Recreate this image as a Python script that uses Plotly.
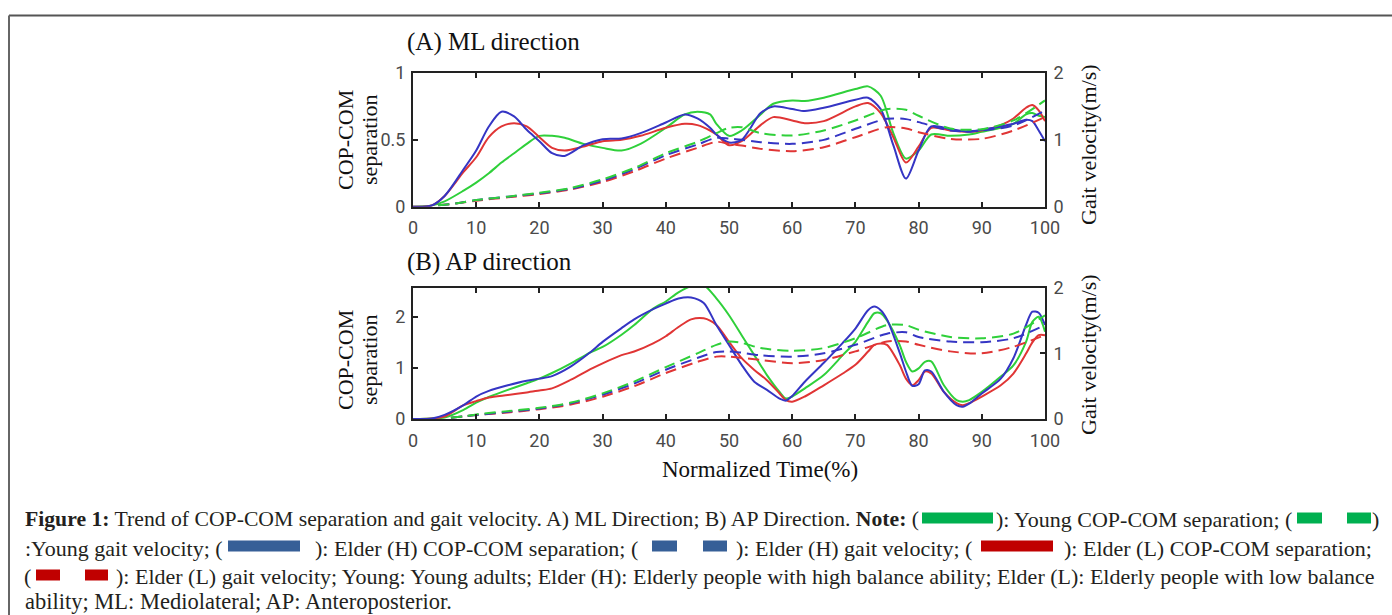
import plotly.graph_objects as go

W, H = 1392, 615

# ---------------- data ----------------
ml_x = [0, 3, 5, 8, 10, 12, 14, 16, 18, 20, 22, 24, 27, 30, 33, 36, 40, 43, 45, 47, 48, 50, 52, 55, 57,
        60, 62, 65, 70, 72, 74, 76, 78, 80, 82, 85, 88, 90, 93, 95, 97, 98, 99, 100]
ml_young = [0, 0.01, 0.04, 0.12, 0.18, 0.25, 0.33, 0.4, 0.47, 0.53, 0.53, 0.515, 0.47, 0.44, 0.42, 0.47,
            0.59, 0.69, 0.71, 0.69, 0.62, 0.53, 0.57, 0.69, 0.77, 0.795, 0.79, 0.815, 0.88, 0.9, 0.83,
            0.55, 0.36, 0.42, 0.54, 0.53, 0.54, 0.56, 0.59, 0.62, 0.69, 0.7, 0.68, 0.67]
ml_elder_h = [0, 0.01, 0.08, 0.28, 0.42, 0.6, 0.71, 0.675, 0.575, 0.49, 0.4, 0.38, 0.46, 0.505, 0.51, 0.55,
              0.63, 0.69, 0.66, 0.59, 0.54, 0.48, 0.5, 0.7, 0.75, 0.73, 0.715, 0.74, 0.8, 0.815, 0.73,
              0.46, 0.21, 0.42, 0.6, 0.58, 0.56, 0.575, 0.6, 0.62, 0.65, 0.64, 0.57, 0.49]
ml_elder_l = [0, 0.01, 0.08, 0.26, 0.37, 0.52, 0.6, 0.625, 0.6, 0.52, 0.44, 0.42, 0.45, 0.49, 0.5, 0.53,
              0.59, 0.62, 0.61, 0.57, 0.54, 0.46, 0.49, 0.61, 0.67, 0.645, 0.625, 0.64, 0.75, 0.775, 0.7,
              0.52, 0.33, 0.45, 0.59, 0.57, 0.56, 0.57, 0.61, 0.66, 0.74, 0.76, 0.72, 0.64]

mlv_x = [4, 7, 10, 15, 20, 25, 30, 35, 40, 45, 48, 50, 52, 55, 60, 65, 70, 75, 78, 80, 85, 90, 95, 100]
mlv_young = [0.02, 0.05, 0.1, 0.15, 0.21, 0.28, 0.41, 0.58, 0.8, 0.97, 1.1, 1.18, 1.19, 1.1, 1.065, 1.14,
             1.29, 1.46, 1.45, 1.36, 1.17, 1.16, 1.29, 1.59]
mlv_elder_h = [0.02, 0.05, 0.1, 0.15, 0.2, 0.27, 0.39, 0.56, 0.77, 0.93, 1.03, 1.02, 1.0, 0.965, 0.94, 1.0,
               1.165, 1.315, 1.31, 1.265, 1.14, 1.14, 1.215, 1.44]
mlv_elder_l = [0.02, 0.05, 0.09, 0.14, 0.19, 0.26, 0.37, 0.53, 0.72, 0.88, 0.97, 0.94, 0.915, 0.865, 0.83,
               0.89, 1.04, 1.19, 1.17, 1.115, 1.015, 1.015, 1.14, 1.34]

ap_x = [0, 3, 5, 8, 10, 12, 15, 18, 20, 22, 25, 28, 30, 33, 35, 38, 40, 42, 44, 46, 48, 50, 52, 54, 56,
        58, 59, 60, 62, 65, 68, 70, 72, 73, 74, 75, 77, 78, 79, 80, 81, 82, 84, 86, 87, 88, 90, 93, 95,
        97, 98, 99, 100]
ap_young = [0, 0.01, 0.03, 0.18, 0.32, 0.43, 0.57, 0.7, 0.79, 0.9, 1.09, 1.3, 1.41, 1.65, 1.84, 2.16, 2.3,
            2.48, 2.6, 2.62, 2.36, 2.03, 1.64, 1.25, 0.86, 0.53, 0.4, 0.44, 0.6, 0.86, 1.25, 1.51, 1.9,
            2.07, 2.07, 1.93, 1.45, 1.12, 0.93, 0.99, 1.12, 1.13, 0.66, 0.37, 0.34, 0.37, 0.53, 0.83,
            1.05, 1.51, 1.9, 2.0, 1.71]
ap_elder_h = [0, 0.01, 0.08, 0.27, 0.44, 0.55, 0.66, 0.75, 0.79, 0.84, 1.03, 1.3, 1.51, 1.78, 1.95, 2.15,
              2.26, 2.36, 2.38, 2.27, 1.84, 1.45, 1.06, 0.73, 0.57, 0.4, 0.36, 0.45, 0.73, 1.1, 1.49, 1.77,
              2.13, 2.2, 2.13, 1.95, 1.3, 0.93, 0.65, 0.68, 0.95, 0.93, 0.53, 0.27, 0.24, 0.3, 0.5, 0.79,
              1.19, 1.84, 2.1, 2.08, 1.84]
ap_elder_l = [0, 0.01, 0.05, 0.27, 0.35, 0.42, 0.47, 0.52, 0.56, 0.6, 0.77, 0.97, 1.09, 1.25, 1.32, 1.48,
              1.62, 1.8, 1.95, 1.97, 1.84, 1.51, 1.19, 0.96, 0.76, 0.5, 0.37, 0.34, 0.44, 0.66, 0.89, 1.06,
              1.32, 1.45, 1.48, 1.45, 1.06, 0.79, 0.66, 0.76, 0.93, 0.89, 0.53, 0.31, 0.27, 0.31, 0.44,
              0.66, 0.89, 1.28, 1.5, 1.64, 1.64]

apv_x = [6, 8, 10, 15, 20, 25, 30, 35, 40, 45, 48, 50, 52, 55, 60, 65, 70, 75, 78, 80, 85, 90, 95, 100]
apv_young = [0.02, 0.04, 0.07, 0.12, 0.17, 0.25, 0.39, 0.57, 0.79, 1.0, 1.13, 1.18, 1.16, 1.08, 1.04, 1.08,
             1.23, 1.43, 1.43, 1.36, 1.25, 1.23, 1.3, 1.58]
apv_elder_h = [0.02, 0.04, 0.06, 0.11, 0.16, 0.24, 0.37, 0.54, 0.75, 0.93, 1.02, 1.03, 1.01, 0.97, 0.95, 1.0,
               1.13, 1.3, 1.32, 1.25, 1.18, 1.17, 1.23, 1.43]
apv_elder_l = [0.02, 0.04, 0.06, 0.1, 0.15, 0.22, 0.34, 0.5, 0.7, 0.87, 0.95, 0.95, 0.93, 0.9, 0.85, 0.9,
               1.03, 1.18, 1.18, 1.13, 1.03, 1.0, 1.1, 1.28]

x_ticks = [0, 10, 20, 30, 40, 50, 60, 70, 80, 90, 100]
ml_left_ticks = [0, 0.5, 1]
ap_left_ticks = [0, 1, 2]
right_ticks = [0, 1, 2]

C_GREEN = "#2fd03a"
C_BLUE = "#3535c4"
C_RED = "#e03535"

# ---------------- helpers ----------------
def px(x):
    return x / W

def py(y):
    return 1 - y / H

fig = go.Figure()

def add(x, y, color, xa, ya, dash=None):
    fig.add_trace(go.Scatter(
        x=x, y=y, xaxis=xa, yaxis=ya, mode="lines",
        line=dict(color=color, width=2, shape="spline", smoothing=0.8,
                  dash=dash if dash else "solid"),
        showlegend=False, hoverinfo="skip"))

DASH = "11px,6px"
# ML panel
add(mlv_x, mlv_elder_l, C_RED, "x", "y2", DASH)
add(mlv_x, mlv_elder_h, C_BLUE, "x", "y2", DASH)
add(mlv_x, mlv_young, C_GREEN, "x", "y2", DASH)
add(ml_x, ml_young, C_GREEN, "x", "y")
add(ml_x, ml_elder_l, C_RED, "x", "y")
add(ml_x, ml_elder_h, C_BLUE, "x", "y")
# AP panel
add(apv_x, apv_elder_l, C_RED, "x2", "y4", DASH)
add(apv_x, apv_elder_h, C_BLUE, "x2", "y4", DASH)
add(apv_x, apv_young, C_GREEN, "x2", "y4", DASH)
add(ap_x, ap_young, C_GREEN, "x2", "y3")
add(ap_x, ap_elder_l, C_RED, "x2", "y3")
add(ap_x, ap_elder_h, C_BLUE, "x2", "y3")

TICKFONT = dict(family="Roboto, sans-serif", size=18, color="#4a4a4a")
xdom = [px(413), px(1045)]
top_dom = [py(206.7), py(73)]
bot_dom = [py(419), py(287.7)]

COMMON = dict(ticks="inside", ticklen=5, tickwidth=1.5, tickcolor="#222",
              showline=True, linecolor="#222", linewidth=2, automargin=False,
              showgrid=False, zeroline=False, tickfont=TICKFONT)

def xaxis(anchor):
    return dict(domain=xdom, anchor=anchor, range=[0, 100], tickvals=x_ticks,
                mirror="ticks", ticklabelstandoff=4, **COMMON)

def yleft(dom, rng, tv, anchor):
    return dict(domain=dom, anchor=anchor, range=rng, tickvals=tv, ticklabelstandoff=2, **COMMON)

def yright(dom, overlay, anchor):
    return dict(domain=dom, anchor=anchor, overlaying=overlay, side="right", range=[0, 2],
                tickvals=right_ticks, ticklabelstandoff=3, **COMMON)

fig.update_layout(
    width=W, height=H, margin=dict(l=0, r=0, t=0, b=0, autoexpand=False),
    paper_bgcolor="white", plot_bgcolor="white", showlegend=False,
    xaxis=xaxis("y"), yaxis=yleft(top_dom, [0, 1], ml_left_ticks, "x"),
    yaxis2=yright(top_dom, "y", "x"),
    xaxis2=xaxis("y3"), yaxis3=yleft(bot_dom, [0, 2.57], ap_left_ticks, "x2"),
    yaxis4=yright(bot_dom, "y3", "x2"),
)

SERIF = "Liberation Serif, Times New Roman, serif"
ann = []

def text(x, y, s, size, xanchor="left", angle=0, color="#111111", family=SERIF):
    ann.append(dict(x=px(x), y=py(y), xref="paper", yref="paper", text=s, showarrow=False,
                    xanchor=xanchor, yanchor="middle", textangle=angle,
                    font=dict(family=family, size=size, color=color)))

# panel titles and axis titles
text(405, 42, "(A) ML direction", 25)
text(405, 262, "(B) AP direction", 25)
text(760, 469, "Normalized Time(%)", 23, xanchor="center")
for yc in (140, 360):
    text(345, yc, "COP-COM", 22, xanchor="center", angle=-90)
    text(369, yc, "separation", 22, xanchor="center", angle=-90)
text(1088, 145, "Gait velocity(m/s)", 22, xanchor="center", angle=-90)
text(1088, 355, "Gait velocity(m/s)", 22, xanchor="center", angle=-90)

# caption
CAP = "#231f20"
CS = 22
shapes = []

def bar(x0, x1, yc, color):
    shapes.append(dict(type="rect", xref="paper", yref="paper", x0=px(x0), x1=px(x1),
                       y0=py(yc + 5.5), y1=py(yc - 5.5), fillcolor=color, line=dict(width=0)))

GREEN_BAR, BLUE_BAR, RED_BAR = "#00b050", "#365f97", "#c00000"
L1, L2, L3, L4 = 519, 548, 576, 601
text(23, L1, "<b>Figure 1:</b> Trend of COP-COM separation and gait velocity. A) ML Direction; "
             "B) AP Direction. <b>Note:</b> (", 21.7, color=CAP)
bar(922, 993, L1 - 1, GREEN_BAR)
text(1144, L1, "): Young COP-COM separation; (", CS, xanchor="center", color=CAP)
bar(1297, 1322, L1 - 1, GREEN_BAR)
bar(1347, 1371, L1 - 1, GREEN_BAR)
text(1381, L1, ")", CS, xanchor="right", color=CAP)

text(225, L2, ":Young gait velocity; (", CS, xanchor="right", color=CAP)
bar(228, 300, L2 - 2, BLUE_BAR)
text(476, L2, "): Elder (H) COP-COM separation; (", CS, xanchor="center", color=CAP)
bar(652, 677, L2 - 2, BLUE_BAR)
bar(703, 727, L2 - 2, BLUE_BAR)
text(854, L2, "): Elder (H) gait velocity; (", CS, xanchor="center", color=CAP)
bar(981, 1053, L2 - 2, RED_BAR)
text(1218, L2, "): Elder (L) COP-COM separation;", CS, xanchor="center", color=CAP)

text(22, L3, "(", CS, color=CAP)
bar(36, 60, L3 - 1, RED_BAR)
bar(85, 108, L3 - 1, RED_BAR)
text(745, L3, "): Elder (L) gait velocity; Young: Young adults; Elder (H): Elderly people with high "
              "balance ability; Elder (L): Elderly people with low balance", CS, xanchor="center", color=CAP)
text(23, L4, "ability; ML: Mediolateral; AP: Anteroposterior.", 22.5, color=CAP)

# outer frame (top and left edges)
shapes.append(dict(type="line", xref="paper", yref="paper", x0=px(9), x1=1, y0=py(15.5), y1=py(15.5),
                   line=dict(color="#555555", width=2)))
shapes.append(dict(type="line", xref="paper", yref="paper", x0=px(9), x1=px(9), y0=py(15.5), y1=0,
                   line=dict(color="#666666", width=2)))

fig.update_layout(annotations=ann, shapes=shapes)
fig.write_html("out.html", config={"displayModeBar": False},
               post_script="document.body.style.margin='0px';")
